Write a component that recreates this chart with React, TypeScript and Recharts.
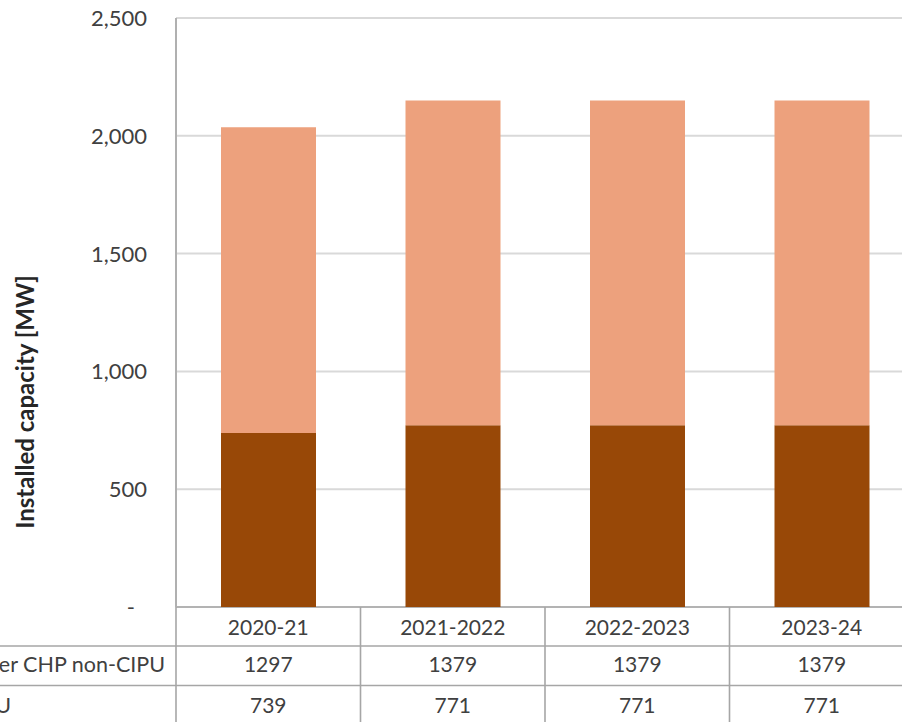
import React from 'react';
import { BarChart, Bar, XAxis, YAxis, CartesianGrid, Customized } from 'recharts';

// Installed CHP capacity by period [MW]
const periods = ['2020-21', '2021-2022', '2022-2023', '2023-24'];
const otherChpNonCipu = [1297, 1379, 1379, 1379];
const cipu = [739, 771, 771, 771];
const seriesNames = ['Other CHP non-CIPU', 'CIPU'];
const yTicks = [0, 500, 1000, 1500, 2000, 2500];

const data = periods.map((p, i) => ({
  period: p,
  cipu: cipu[i],
  other: otherChpNonCipu[i],
}));

// Layout
const SHIFT = 45; // chart is slid left so the series-name column starts off the page edge
const W = 969;
const H = 737;
const MARGIN = { top: 18, right: 10, bottom: 0, left: 0 };
const Y_AXIS_W = 221;
const X_AXIS_H = 130;
const PLOT_BOTTOM = H - MARGIN.bottom - X_AXIS_H;
const ROW_LINES = [646, 685.5, 725];
const ROW_TEXT_DY = [20.5, 57, 98];

const FONT = 'Lato, "Open Sans", sans-serif';
const TEXT = '#404040';
const TABLE_LINE = '#a6a6a6';
const DARK = '#984807';
const LIGHT = '#EDA17D';

const fmt = (v: number) => v.toLocaleString('en-US');

const YTick = (props: any) => {
  const { x, y, payload } = props;
  const zero = payload.value === 0;
  return (
    <text
      x={zero ? x - 12 : x}
      y={y}
      dy="0.36em"
      textAnchor="end"
      fill={TEXT}
      fontFamily={FONT}
      fontSize={22}
    >
      {zero ? '-' : fmt(payload.value)}
    </text>
  );
};

const XTableTick = (props: any) => {
  const { x, y, payload } = props;
  const i = periods.indexOf(payload.value);
  const cells = [payload.value, String(otherChpNonCipu[i]), String(cipu[i])];
  return (
    <g>
      {cells.map((c, r) => (
        <text
          key={r}
          x={x}
          y={y + ROW_TEXT_DY[r]}
          dy="0.36em"
          textAnchor="middle"
          fill={TEXT}
          fontFamily={FONT}
          fontSize={21}
        >
          {c}
        </text>
      ))}
    </g>
  );
};

const DataTable = () => {
  const left = MARGIN.left + Y_AXIS_W;
  const right = W - MARGIN.right;
  const band = (right - left) / periods.length;
  return (
    <g>
      <line x1={left} x2={right} y1={PLOT_BOTTOM} y2={PLOT_BOTTOM} stroke={TABLE_LINE} strokeWidth={1.6} />
      {ROW_LINES.map((y, k) => (
        <line key={k} x1={0} x2={right} y1={y} y2={y} stroke={TABLE_LINE} strokeWidth={1.6} />
      ))}
      {periods.map((_, k) => (
        <line
          key={k}
          x1={left + k * band}
          x2={left + k * band}
          y1={PLOT_BOTTOM}
          y2={H}
          stroke={TABLE_LINE}
          strokeWidth={1.6}
        />
      ))}
      <line x1={right} x2={right} y1={PLOT_BOTTOM} y2={H} stroke={TABLE_LINE} strokeWidth={1.6} />
      {seriesNames.map((name, r) => (
        <text
          key={name}
          x={7}
          y={PLOT_BOTTOM + ROW_TEXT_DY[r + 1]}
          dy="0.36em"
          textAnchor="start"
          fill={TEXT}
          fontFamily={FONT}
          fontSize={21.5}
        >
          {name}
        </text>
      ))}
      <text
        x={SHIFT + 25}
        y={402}
        dy="0.36em"
        textAnchor="middle"
        transform={`rotate(-90 ${SHIFT + 25} 402)`}
        fill="#262626"
        fontFamily={FONT}
        fontSize={24}
        fontWeight="bold"
      >
        Installed capacity [MW]
      </text>
    </g>
  );
};

export default function App() {
  return (
    <div
      style={{
        position: 'absolute',
        left: 0,
        top: 0,
        width: 902,
        height: 722,
        overflow: 'hidden',
        background: '#ffffff',
      }}
    >
      <div style={{ position: 'absolute', left: -SHIFT, top: 0 }}>
        <BarChart width={W} height={H} data={data} margin={MARGIN} barSize={95}>
          <CartesianGrid vertical={false} stroke="#d9d9d9" strokeWidth={2} />
          <XAxis
            dataKey="period"
            height={X_AXIS_H}
            axisLine={false}
            tickLine={false}
            tickSize={0}
            tickMargin={0}
            interval={0}
            tick={<XTableTick />}
          />
          <YAxis
            width={Y_AXIS_W}
            domain={[0, 2500]}
            ticks={yTicks}
            interval={0}
            axisLine={{ stroke: '#b0b0b0', strokeWidth: 2 }}
            tickLine={false}
            tickSize={0}
            tickMargin={29}
            tick={<YTick />}
          />
          <Bar dataKey="cipu" stackId="cap" fill={DARK} isAnimationActive={false} />
          <Bar dataKey="other" stackId="cap" fill={LIGHT} isAnimationActive={false} />
          <Customized component={<DataTable />} />
        </BarChart>
      </div>
    </div>
  );
}
